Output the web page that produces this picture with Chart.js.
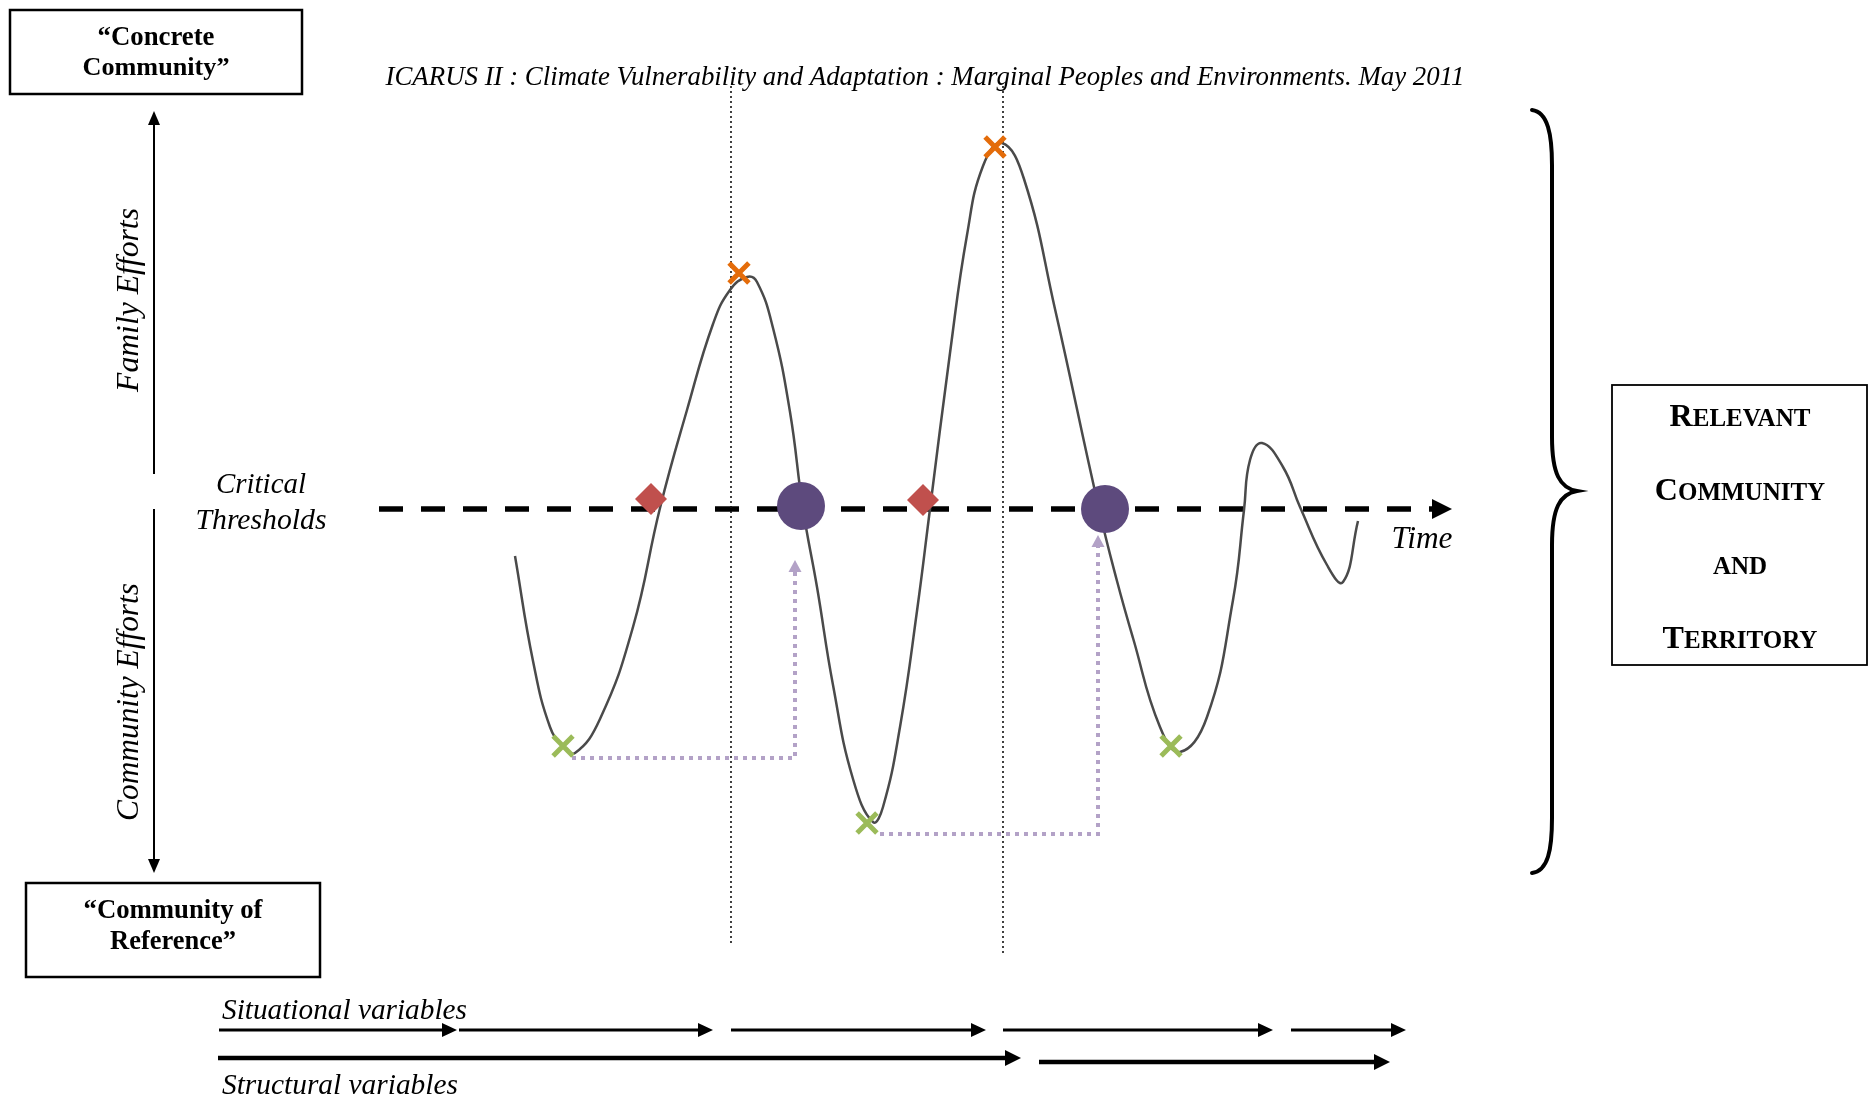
<!DOCTYPE html>
<html><head><meta charset="utf-8">
<script src="https://cdn.jsdelivr.net/npm/chart.js@4"></script>
<style>html,body{margin:0;padding:0;background:#fff;overflow:hidden}canvas{display:block}</style>
</head><body>
<canvas id="c" width="1869" height="1103"></canvas>
<script>
// ---- DATA (time on x, effort on y; 0 = critical threshold) ----
const curveTime   = [13.6,15.4,17.1,18.4,19.6,22.1,25.4,28.1,30.8,33.4,35.1,36.8,37.8,39.4,41.1,42.4,43.8,45.4,47.4,49.4,50.4,52.1,53.8,55.1,57.1,58.8,60.4,62.3,64.5,67.6,72.0,73.8,75.4,78.1,80.1,82.8,85.4,86.5,87.1,88.3,90.4,92.1,94.8,96.4,97.9];
const curveEffort = [-4.7,-15.2,-21.8,-23.7,-24.4,-21.0,-11.8,0.1,9.9,18.5,21.9,23.2,22.7,18.1,9.7,0,-7.8,-17.6,-27.0,-31.3,-29.8,-21.8,-10.2,0,15.6,27.4,34.3,36.6,33.0,20.0,0,-7.2,-12.9,-21.8,-24.3,-20.8,-9.1,-0.1,4.9,6.6,4.2,0.2,-5.6,-7.3,-1.2];
const peakTime = [36.0, 61.6],            peakEffort = [23.6, 36.2];
const troughTime = [18.4, 48.8, 79.2],    troughEffort = [-23.7, -31.4, -23.7];
const entryTime = [27.2, 54.4],           entryEffort = [1.0, 0.9];
const exitTime = [42.2, 72.6],            exitEffort = [0.3, 0.0];
const thresholdTime = [0, 105.3],         thresholdEffort = [0, 0];
const periodMarks = [35.2, 62.4],         periodTop = [42.3, 42.3], periodBottom = [-43.6, -44.7];
const recovery1Time = [19.3, 41.6, 41.6], recovery1Effort = [-24.9, -24.9, -6.3];
const recovery2Time = [50.1, 71.9, 71.9], recovery2Effort = [-32.5, -32.5, -3.8];
const familyAxis = [3.5, 38.4], communityAxis = [0, -35.0], effortAxisTime = -22.5;
const situationalStart = [-16.0, 8.0, 35.2, 62.4, 91.2];
const situationalEnd   = [6.3, 31.9, 59.2, 87.9, 101.2];
const situationalLevel = -52.1;
const structuralStart = [-16.1, 66.0];
const structuralEnd   = [62.6, 99.5];
const structuralLevel = [-54.9, -55.3];
const xRange = [-37.9, 149.0], yRange = [-59.4, 50.9];

// ---- build datasets ----
const pts = (xs, ys) => xs.map((x, i) => ({x, y: ys[i]}));
const line = (data, color, width, extra) => Object.assign({type:'line', data, borderColor:color, backgroundColor:color,
  borderWidth:width, pointRadius:0, showLine:true, fill:false, tension:0}, extra || {});

const datasets = [
  {type:'scatter', data: pts(exitTime, exitEffort), pointStyle:'circle', pointRadius:24, backgroundColor:'#5d4a7d', borderColor:'#5d4a7d', borderWidth:0, order:0},
  {type:'scatter', data: pts(entryTime, entryEffort), pointStyle:'rectRot', pointRadius:16, backgroundColor:'#c0504d', borderColor:'#c0504d', borderWidth:0, order:0},
  {type:'scatter', data: pts(peakTime, peakEffort), pointStyle:'crossRot', pointRadius:14, borderColor:'#e46c0a', borderWidth:5, order:0},
  {type:'scatter', data: pts(troughTime, troughEffort), pointStyle:'crossRot', pointRadius:14, borderColor:'#9bbb59', borderWidth:5, order:0},
  line(pts(curveTime, curveEffort), '#4a4a4a', 2.5, {tension:0.45, order:2}),
  line(pts(recovery1Time, recovery1Effort), '#b3a2c7', 4, {borderDash:[4,5], order:3, arrow:{len:12, wid:13}}),
  line(pts(recovery2Time, recovery2Effort), '#b3a2c7', 4, {borderDash:[4,5], order:3, arrow:{len:12, wid:13}}),
  ...periodMarks.map((t, i) => line(pts([t, t], [periodTop[i], periodBottom[i]]), '#111', 1.6, {borderDash:[2,3], order:4})),
  line(pts(thresholdTime, thresholdEffort), '#000', 5.5, {borderDash:[24,18], order:5, arrow:{len:20, wid:20}}),
  line(pts([effortAxisTime, effortAxisTime], familyAxis), '#000', 2, {order:5, arrow:{len:14, wid:12}}),
  line(pts([effortAxisTime, effortAxisTime], communityAxis), '#000', 2, {order:5, arrow:{len:14, wid:12}}),
  ...situationalStart.map((s, i) => line(pts([s, situationalEnd[i]], [situationalLevel, situationalLevel]), '#000', 3, {order:5, arrow:{len:15, wid:14}})),
  ...structuralStart.map((s, i) => line(pts([s, structuralEnd[i]], [structuralLevel[i], structuralLevel[i]]), '#000', 4.5, {order:5, arrow:{len:16, wid:16}})),
];

// ---- plugins ----
const arrowPlugin = {
  id: 'arrowHeads',
  afterDatasetsDraw(chart) {
    const ctx = chart.ctx;
    chart.data.datasets.forEach((ds, i) => {
      if (!ds.arrow) return;
      const el = chart.getDatasetMeta(i).data, n = el.length;
      const a = el[n-2], b = el[n-1];
      const ang = Math.atan2(b.y - a.y, b.x - a.x);
      ctx.save();
      ctx.translate(b.x, b.y); ctx.rotate(ang);
      ctx.beginPath();
      ctx.moveTo(ds.arrow.len, 0);
      ctx.lineTo(0, -ds.arrow.wid/2);
      ctx.lineTo(0, ds.arrow.wid/2);
      ctx.closePath();
      ctx.fillStyle = ds.borderColor; ctx.fill();
      ctx.restore();
    });
  }
};

const SERIF = '"Liberation Serif", "Times New Roman", serif';
function fitText(ctx, txt, cx, cy, w, style, rot) {
  ctx.save();
  ctx.font = style + ' 100px ' + SERIF;
  const s = 100 * w / ctx.measureText(txt).width;
  ctx.font = style + ' ' + s.toFixed(2) + 'px ' + SERIF;
  ctx.translate(cx, cy); if (rot) ctx.rotate(rot);
  ctx.textAlign = 'center'; ctx.textBaseline = 'middle'; ctx.fillStyle = '#000';
  ctx.fillText(txt, 0, 0);
  ctx.restore();
}
function fitTextLeft(ctx, txt, x, cy, w) {
  ctx.save();
  ctx.font = 'italic 100px ' + SERIF;
  const s = 100 * w / ctx.measureText(txt).width;
  ctx.font = 'italic ' + s.toFixed(2) + 'px ' + SERIF;
  ctx.textAlign = 'left'; ctx.textBaseline = 'middle'; ctx.fillStyle = '#000';
  ctx.fillText(txt, x, cy);
  ctx.restore();
}
function smallCapsWidth(ctx, big, small, size) {
  ctx.font = 'bold ' + size + 'px ' + SERIF; let w = ctx.measureText(big).width;
  ctx.font = 'bold ' + (size*0.78) + 'px ' + SERIF; w += ctx.measureText(small).width;
  return w;
}
const annotPlugin = {
  id: 'annotations',
  afterDraw(chart) {
    const ctx = chart.ctx;
    ctx.save();
    ctx.strokeStyle = '#000'; ctx.lineWidth = 2.5;
    ctx.strokeRect(10, 10, 292, 84);
    ctx.strokeRect(26, 883, 294, 94);
    ctx.lineWidth = 1.8;
    ctx.strokeRect(1612, 385, 255, 280);
    // brace
    ctx.lineWidth = 4; ctx.lineCap = 'round';
    ctx.beginPath();
    ctx.moveTo(1532, 110);
    ctx.bezierCurveTo(1548, 112, 1552, 135, 1552, 165);
    ctx.lineTo(1552, 437);
    ctx.bezierCurveTo(1552, 474, 1560, 488, 1577, 491);
    ctx.bezierCurveTo(1560, 494, 1552, 508, 1552, 545);
    ctx.lineTo(1552, 818);
    ctx.bezierCurveTo(1552, 850, 1548, 871, 1532, 873);
    ctx.stroke();
    ctx.restore();

    fitText(ctx, '\u201CConcrete', 156, 38, 117, 'bold');
    fitText(ctx, 'Community\u201D', 156, 68, 147, 'bold');
    fitText(ctx, '\u201CCommunity of', 173, 911, 179, 'bold');
    fitText(ctx, 'Reference\u201D', 173, 942, 126, 'bold');
    fitText(ctx, 'ICARUS II : Climate Vulnerability and Adaptation : Marginal Peoples and Environments. May 2011', 925, 78, 1079, 'italic');
    fitText(ctx, 'Family Efforts', 130, 300, 184, 'italic', -Math.PI/2);
    fitText(ctx, 'Community Efforts', 130, 702, 238, 'italic', -Math.PI/2);
    fitText(ctx, 'Critical', 261, 485, 90, 'italic');
    fitText(ctx, 'Thresholds', 261, 521, 131, 'italic');
    fitText(ctx, 'Time', 1422, 540, 61, 'italic');
    fitTextLeft(ctx, 'Situational variables', 222, 1011, 245);
    fitTextLeft(ctx, 'Structural variables', 222, 1086, 236);

    const lines = [['R','ELEVANT',415,145],['C','OMMUNITY',489,171],['','AND',563,52],['T','ERRITORY',637,156]];
    let sc = 0;
    lines.forEach(l => { sc += 100 * l[3] / smallCapsWidth(ctx, l[0], l[1], 100); });
    const size = sc / lines.length;
    lines.forEach(l => {
      const w = smallCapsWidth(ctx, l[0], l[1], size);
      let x = 1740 - w/2;
      const base = l[2] + size*0.33;
      ctx.save(); ctx.fillStyle = '#000'; ctx.textAlign = 'left'; ctx.textBaseline = 'alphabetic';
      ctx.font = 'bold ' + size + 'px ' + SERIF; ctx.fillText(l[0], x, base); x += ctx.measureText(l[0]).width;
      ctx.font = 'bold ' + (size*0.78) + 'px ' + SERIF; ctx.fillText(l[1], x, base);
      ctx.restore();
    });
  }
};

new Chart(document.getElementById('c'), {
  type: 'scatter',
  data: { datasets },
  options: {
    responsive: false, animation: false, devicePixelRatio: 1,
    layout: { padding: 0, autoPadding: false },
    plugins: { legend: { display: false }, tooltip: { enabled: false } },
    scales: {
      x: { type: 'linear', min: xRange[0], max: xRange[1], display: false },
      y: { type: 'linear', min: yRange[0], max: yRange[1], display: false }
    },
    elements: { line: { borderCapStyle: 'butt' } }
  },
  plugins: [arrowPlugin, annotPlugin]
});
</script>
</body></html>
